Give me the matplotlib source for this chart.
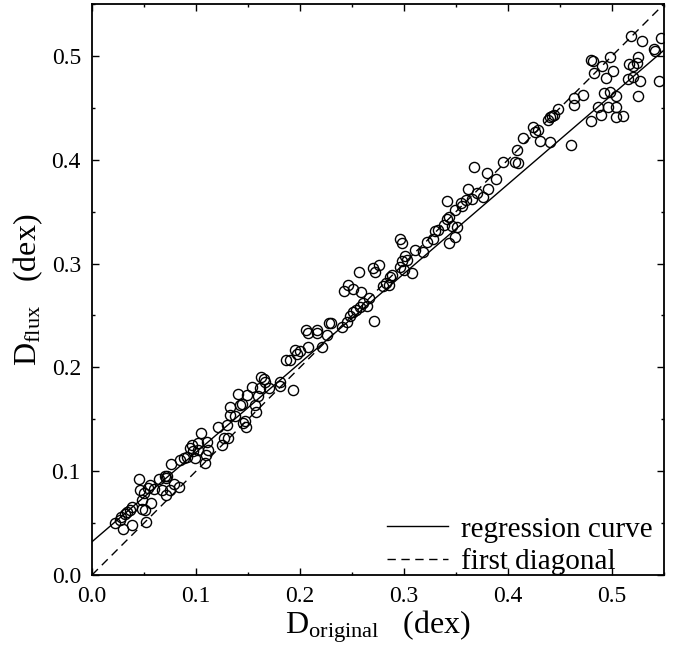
import matplotlib
matplotlib.use("Agg")
import matplotlib.pyplot as plt
from matplotlib.ticker import MultipleLocator

plt.rcParams['font.family'] = ['Liberation Serif', 'DejaVu Serif']
plt.rcParams['mathtext.fontset'] = 'custom'
plt.rcParams['mathtext.rm'] = 'Liberation Serif'
plt.rcParams['mathtext.it'] = 'Liberation Serif:italic'

# scatter points (x = D_original, y = D_flux)
d_original = [
    0.022, 0.027, 0.030, 0.028, 0.032, 0.034, 0.037, 0.038, 0.038, 0.045,
    0.046, 0.048, 0.048, 0.051, 0.052, 0.050, 0.054, 0.057, 0.056, 0.060,
    0.064, 0.067, 0.070, 0.071, 0.072, 0.071, 0.075, 0.076, 0.079, 0.084,
    0.085, 0.088, 0.091, 0.094, 0.096, 0.097, 0.099, 0.102, 0.102, 0.105,
    0.110, 0.109, 0.112, 0.111, 0.125, 0.127, 0.121, 0.130, 0.145, 0.148,
    0.131, 0.133, 0.133, 0.1375, 0.140, 0.142, 0.144, 0.147, 0.149, 0.154,
    0.157, 0.158, 0.160, 0.1615, 0.1625, 0.165, 0.166, 0.170, 0.181, 0.181,
    0.193, 0.1865, 0.190, 0.195, 0.197, 0.200, 0.208, 0.216, 0.208, 0.221,
    0.226, 0.228, 0.206, 0.216, 0.230, 0.240, 0.245, 0.248, 0.251, 0.254,
    0.258, 0.261, 0.264, 0.266, 0.271, 0.242, 0.246, 0.251, 0.259, 0.257,
    0.270, 0.272, 0.276, 0.280, 0.283, 0.286, 0.2865, 0.288, 0.296, 0.298,
    0.300, 0.301, 0.303, 0.296, 0.298, 0.308, 0.311, 0.3185, 0.322, 0.328,
    0.330, 0.333, 0.338, 0.341, 0.343, 0.346, 0.349, 0.349, 0.343, 0.341,
    0.351, 0.355, 0.360, 0.367, 0.370, 0.380, 0.381, 0.376, 0.407, 0.409,
    0.410, 0.414, 0.424, 0.426, 0.429, 0.431, 0.440, 0.438, 0.440, 0.442,
    0.444, 0.448, 0.461, 0.463, 0.463, 0.472, 0.480, 0.482, 0.483, 0.480,
    0.487, 0.489, 0.490, 0.492, 0.494, 0.496, 0.498, 0.498, 0.501, 0.504,
    0.504, 0.504, 0.511, 0.515, 0.516, 0.518, 0.520, 0.520, 0.525, 0.525,
    0.524, 0.527, 0.529, 0.540, 0.541, 0.545, 0.547, 0.395, 0.388, 0.362,
    0.356, 0.365,
]
d_flux = [
    0.050, 0.053, 0.044, 0.056, 0.059, 0.061, 0.063, 0.065, 0.048, 0.092,
    0.082, 0.072, 0.064, 0.063, 0.051, 0.079, 0.084, 0.069, 0.087, 0.083,
    0.092, 0.082, 0.095, 0.093, 0.095, 0.077, 0.082, 0.107, 0.088, 0.085,
    0.111, 0.113, 0.114, 0.122, 0.125, 0.119, 0.113, 0.120, 0.127, 0.137,
    0.116, 0.108, 0.120, 0.128, 0.125, 0.132, 0.143, 0.144, 0.146, 0.143,
    0.132, 0.162, 0.154, 0.153, 0.174, 0.164, 0.165, 0.148, 0.173, 0.181,
    0.164, 0.157, 0.172, 0.180, 0.191, 0.189, 0.186, 0.180, 0.186, 0.182,
    0.178, 0.207, 0.207, 0.217, 0.213, 0.216, 0.233, 0.233, 0.220, 0.220,
    0.231, 0.243, 0.236, 0.236, 0.243, 0.239, 0.244, 0.249, 0.253, 0.255,
    0.258, 0.262, 0.259, 0.267, 0.245, 0.274, 0.279, 0.275, 0.273, 0.292,
    0.296, 0.292, 0.299, 0.278, 0.281, 0.279, 0.287, 0.289, 0.297, 0.302,
    0.294, 0.307, 0.303, 0.324, 0.320, 0.291, 0.313, 0.311, 0.321, 0.324,
    0.331, 0.332, 0.337, 0.343, 0.345, 0.336, 0.352, 0.326, 0.320, 0.360,
    0.335, 0.358, 0.361, 0.393, 0.368, 0.387, 0.372, 0.364, 0.398, 0.409,
    0.397, 0.421, 0.432, 0.427, 0.429, 0.418, 0.417, 0.438, 0.441, 0.442,
    0.443, 0.449, 0.414, 0.453, 0.459, 0.462, 0.496, 0.495, 0.484, 0.437,
    0.451, 0.443, 0.490, 0.464, 0.479, 0.451, 0.465, 0.499, 0.485, 0.461,
    0.451, 0.441, 0.442, 0.478, 0.492, 0.519, 0.480, 0.490, 0.461, 0.499,
    0.493, 0.476, 0.514, 0.507, 0.505, 0.476, 0.517, 0.398, 0.381, 0.372,
    0.355, 0.362,
]

# regression line end points and first diagonal
reg_x = [0.0, 0.55]
reg_y = [0.032, 0.5056]
diag_x = [0.0, 0.55]
diag_y = [0.0, 0.55]

fig = plt.figure(figsize=(6.8, 6.48), dpi=100)
ax = fig.add_axes([0.1353, 0.1127, 0.8412, 0.8811])

ax.plot(d_original, d_flux, linestyle='none', marker='o', markersize=7.3,
        markerfacecolor='none', markeredgecolor='black', markeredgewidth=1.0)
ax.plot(reg_x, reg_y, color='black', linewidth=1.0, label='regression curve')
ax.plot(diag_x, diag_y, color='black', linewidth=1.0, linestyle=(0, (6, 4)),
        label='first diagonal')

ax.set_xlim(0, 0.55)
ax.set_ylim(0, 0.55)
ax.xaxis.set_major_locator(MultipleLocator(0.1))
ax.xaxis.set_minor_locator(MultipleLocator(0.05))
ax.yaxis.set_major_locator(MultipleLocator(0.1))
ax.yaxis.set_minor_locator(MultipleLocator(0.05))
ax.xaxis.set_major_formatter(lambda v, p: f"{v:.1f}")
ax.yaxis.set_major_formatter(lambda v, p: f"{v:.1f}")
ax.tick_params(which='both', direction='in', top=True, right=True, width=1.0,
               labelsize=17, pad=8)
ax.tick_params(which='major', length=5)
ax.tick_params(which='minor', length=2.5)
for s in ax.spines.values():
    s.set_linewidth(1.3)

ax.set_xlabel(r'D$_{\rm original}$   (dex)', fontsize=23, labelpad=1)
ax.set_ylabel(r'D$_{\rm flux}$   (dex)', fontsize=23, y=0.5, labelpad=5)

ax.legend(loc='lower right', frameon=False, fontsize=21, handlelength=2.1,
          handletextpad=0.45, labelspacing=0.2, borderaxespad=0.0,
          borderpad=0.1, bbox_to_anchor=(0.985, -0.006))

fig.savefig('out.png', dpi=100)
